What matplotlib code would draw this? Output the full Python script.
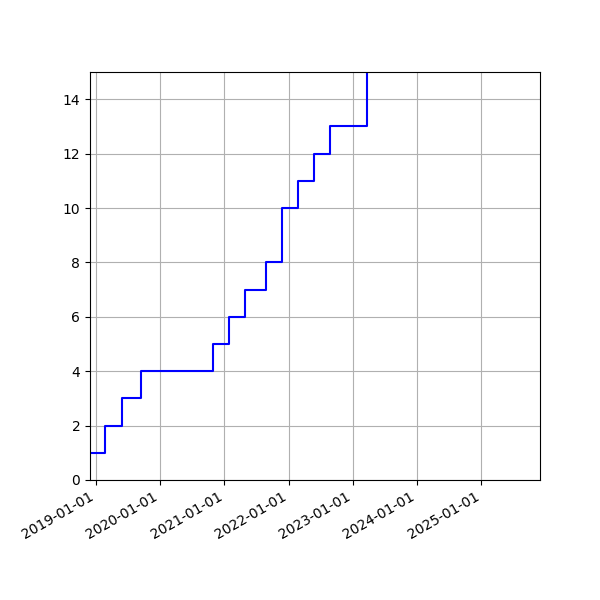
import matplotlib as mpl
mpl.use("Agg")
from matplotlib import pyplot as plt
import matplotlib.dates as mdates
from datetime import datetime

# dates at which the running count changes
dates = ['2018-11-28', '2019-02-20', '2019-05-28', '2019-09-13', '2020-10-25',
         '2021-01-27', '2021-04-28', '2021-08-25', '2021-11-24', '2022-02-22',
         '2022-05-26', '2022-08-23', '2023-03-25']
counts = [1, 2, 3, 4, 5, 6, 7, 8, 10, 11, 12, 13, 16]

x = [datetime.strptime(d, '%Y-%m-%d') for d in dates]

fig, ax = plt.subplots(figsize=(6, 6), dpi=100)
ax.step(x, counts, where='post', color='blue')
ax.set_ylim(0, 15)
ax.set_xlim(datetime(2018, 11, 28), datetime(2025, 12, 1))
ax.xaxis.set_major_locator(mdates.YearLocator())
ax.xaxis.set_major_formatter(mdates.DateFormatter('%Y-%m-%d'))
ax.grid(True)
fig.autofmt_xdate()
fig.subplots_adjust(left=0.15, right=0.9, top=0.88, bottom=0.2)
fig.savefig('out.png')
